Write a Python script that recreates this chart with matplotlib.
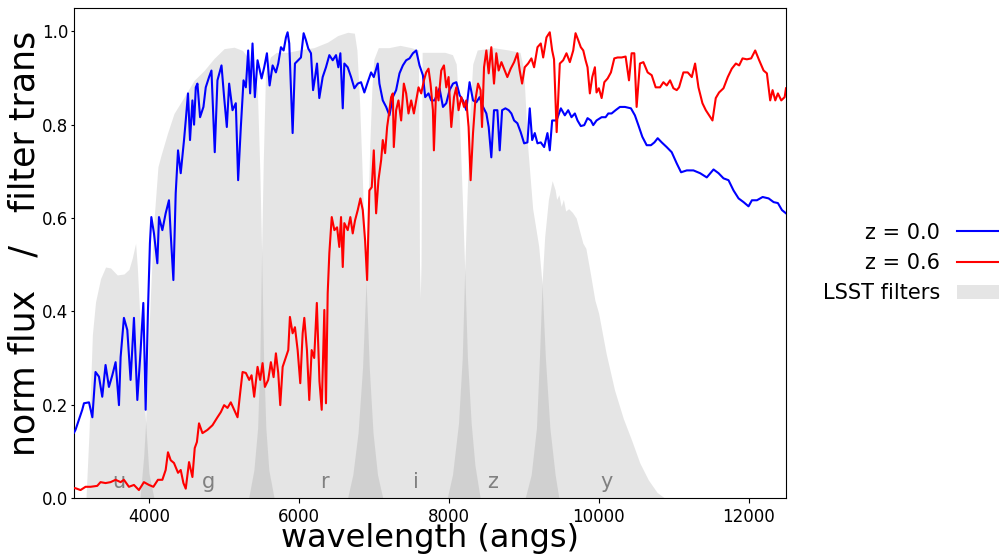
import matplotlib
matplotlib.use("Agg")
import matplotlib.pyplot as plt
import numpy as np

# ---------------- data ----------------
blue_wave = [3000, 3020, 3110, 3133, 3200, 3245, 3287, 3333, 3377, 3421, 3466, 3511, 3555, 3600, 3622,
             3666, 3711, 3755, 3800, 3845, 3889, 3925, 3956, 3987, 4013, 4032, 4067, 4112, 4134, 4179,
             4223, 4267, 4290, 4326, 4357, 4388, 4424, 4468, 4491, 4521, 4548, 4580, 4602, 4625, 4647,
             4682, 4727, 4758, 4802, 4834, 4878, 4914, 4968, 5003, 5039, 5070, 5115, 5159, 5190, 5226,
             5262, 5293, 5324, 5350, 5382, 5413, 5449, 5503, 5538, 5574, 5610, 5650, 5694, 5725, 5761,
             5797, 5828, 5850, 5872, 5917, 5948, 5992, 6028, 6064, 6095, 6126, 6162, 6190, 6215, 6242,
             6273, 6318, 6362, 6407, 6452, 6496, 6527, 6554, 6586, 6607, 6652, 6697, 6741, 6786, 6830,
             6874, 6919, 6964, 7000, 7053, 7075, 7120, 7165, 7209, 7254, 7298, 7343, 7388, 7432, 7477,
             7522, 7566, 7610, 7655, 7686, 7730, 7766, 7811, 7877, 7923, 7967, 8011, 8057, 8101, 8146,
             8190, 8234, 8278, 8324, 8368, 8412, 8458, 8502, 8533, 8568, 8604, 8649, 8680, 8712, 8756,
             8800, 8836, 8872, 8916, 8960, 9006, 9050, 9081, 9113, 9148, 9184, 9228, 9273, 9317, 9348,
             9380, 9438, 9496, 9549, 9594, 9638, 9683, 9718, 9762, 9808, 9852, 9896, 9928, 9972, 10040,
             10093, 10129, 10173, 10226, 10284, 10351, 10431, 10484, 10530, 10583, 10641, 10698, 10744, 10788, 10842,
             10908, 10975, 11042, 11100, 11176, 11265, 11354, 11443, 11533, 11600, 11666, 11733, 11800, 11867, 11934,
             12000, 12045, 12112, 12188, 12268, 12335, 12392, 12446, 12500]
blue_flux = [0.140, 0.146, 0.189, 0.203, 0.205, 0.173, 0.270, 0.260, 0.217, 0.285, 0.238, 0.263, 0.291, 0.199, 0.302,
             0.386, 0.360, 0.253, 0.386, 0.210, 0.317, 0.418, 0.189, 0.403, 0.546, 0.602, 0.567, 0.503, 0.602, 0.574,
             0.610, 0.638, 0.567, 0.467, 0.653, 0.745, 0.696, 0.767, 0.809, 0.867, 0.767, 0.852, 0.800, 0.880, 0.888,
             0.816, 0.838, 0.880, 0.902, 0.916, 0.741, 0.895, 0.927, 0.859, 0.795, 0.888, 0.831, 0.846, 0.681, 0.795,
             0.895, 0.880, 0.959, 0.867, 0.974, 0.859, 0.938, 0.899, 0.923, 0.953, 0.884, 0.927, 0.912, 0.931, 0.966,
             0.959, 0.987, 0.998, 0.974, 0.782, 0.931, 0.938, 0.944, 0.996, 0.981, 0.963, 0.953, 0.874, 0.900, 0.931,
             0.857, 0.902, 0.923, 0.949, 0.938, 0.949, 0.923, 0.953, 0.835, 0.931, 0.923, 0.902, 0.878, 0.888, 0.891,
             0.869, 0.891, 0.912, 0.902, 0.931, 0.888, 0.852, 0.838, 0.820, 0.859, 0.874, 0.910, 0.927, 0.938, 0.942,
             0.953, 0.959, 0.927, 0.906, 0.859, 0.867, 0.852, 0.852, 0.878, 0.838, 0.846, 0.874, 0.888, 0.891, 0.863,
             0.852, 0.831, 0.891, 0.852, 0.848, 0.859, 0.838, 0.824, 0.795, 0.730, 0.831, 0.831, 0.745, 0.831, 0.835,
             0.831, 0.824, 0.809, 0.803, 0.784, 0.760, 0.762, 0.835, 0.767, 0.782, 0.760, 0.762, 0.752, 0.782, 0.745,
             0.809, 0.809, 0.835, 0.820, 0.831, 0.816, 0.824, 0.809, 0.797, 0.799, 0.814, 0.809, 0.799, 0.809, 0.816,
             0.816, 0.824, 0.824, 0.831, 0.838, 0.838, 0.835, 0.820, 0.799, 0.774, 0.756, 0.756, 0.762, 0.771, 0.762,
             0.752, 0.741, 0.717, 0.698, 0.702, 0.702, 0.696, 0.687, 0.704, 0.696, 0.685, 0.681, 0.659, 0.642, 0.634,
             0.625, 0.638, 0.638, 0.645, 0.642, 0.634, 0.632, 0.617, 0.610]

red_wave = [3000, 3020, 3087, 3154, 3221, 3310, 3354, 3421, 3488, 3555, 3622, 3666, 3733, 3800, 3866,
            3933, 4000, 4059, 4120, 4179, 4223, 4254, 4290, 4334, 4388, 4424, 4460, 4491, 4535, 4580,
            4611, 4640, 4668, 4714, 4781, 4848, 4914, 4959, 5003, 5048, 5092, 5137, 5182, 5217, 5249,
            5293, 5338, 5369, 5404, 5449, 5484, 5516, 5547, 5591, 5627, 5663, 5694, 5725, 5752, 5784,
            5828, 5859, 5881, 5917, 5948, 5984, 6019, 6051, 6073, 6108, 6139, 6171, 6205, 6240, 6275,
            6305, 6340, 6362, 6385, 6407, 6439, 6474, 6510, 6540, 6563, 6586, 6607, 6652, 6687, 6719,
            6750, 6786, 6821, 6853, 6884, 6911, 6941, 6973, 7000, 7031, 7062, 7098, 7120, 7151, 7178,
            7209, 7231, 7254, 7267, 7298, 7329, 7365, 7401, 7432, 7463, 7499, 7535, 7566, 7597, 7633,
            7669, 7699, 7730, 7757, 7789, 7802, 7833, 7864, 7900, 7936, 7967, 7998, 8034, 8070, 8101,
            8131, 8168, 8204, 8234, 8265, 8292, 8324, 8355, 8391, 8425, 8444, 8471, 8502, 8533, 8568,
            8604, 8635, 8666, 8703, 8738, 8782, 8827, 8872, 8916, 8947, 8979, 9014, 9059, 9103, 9139,
            9184, 9228, 9260, 9304, 9348, 9380, 9405, 9440, 9482, 9527, 9571, 9616, 9661, 9692, 9728,
            9762, 9795, 9826, 9852, 9883, 9915, 9950, 9972, 10003, 10040, 10076, 10120, 10164, 10209, 10253,
            10307, 10360, 10405, 10440, 10476, 10507, 10551, 10597, 10654, 10708, 10761, 10819, 10864, 10909, 10953,
            10998, 11042, 11073, 11131, 11189, 11243, 11287, 11332, 11385, 11430, 11474, 11519, 11563, 11607, 11666,
            11723, 11777, 11831, 11875, 11920, 11978, 12035, 12089, 12142, 12201, 12245, 12289, 12321, 12357, 12392,
            12437, 12482, 12500]
red_flux = [0.021, 0.021, 0.017, 0.024, 0.024, 0.026, 0.034, 0.032, 0.034, 0.039, 0.034, 0.039, 0.024, 0.028, 0.017,
            0.034, 0.028, 0.024, 0.039, 0.039, 0.060, 0.098, 0.081, 0.075, 0.054, 0.060, 0.032, 0.020, 0.077, 0.045,
            0.107, 0.120, 0.160, 0.139, 0.146, 0.156, 0.173, 0.184, 0.199, 0.193, 0.205, 0.189, 0.173, 0.225, 0.270,
            0.268, 0.253, 0.263, 0.217, 0.281, 0.253, 0.289, 0.238, 0.253, 0.291, 0.259, 0.310, 0.268, 0.199, 0.281,
            0.302, 0.317, 0.388, 0.353, 0.366, 0.317, 0.246, 0.353, 0.386, 0.317, 0.210, 0.317, 0.300, 0.418, 0.250,
            0.189, 0.403, 0.203, 0.439, 0.525, 0.602, 0.574, 0.580, 0.538, 0.602, 0.495, 0.589, 0.574, 0.602, 0.567,
            0.595, 0.617, 0.642, 0.617, 0.552, 0.467, 0.659, 0.666, 0.745, 0.610, 0.681, 0.724, 0.767, 0.739, 0.795,
            0.831, 0.859, 0.867, 0.752, 0.831, 0.852, 0.809, 0.888, 0.867, 0.824, 0.852, 0.824, 0.852, 0.880, 0.867,
            0.895, 0.912, 0.920, 0.888, 0.831, 0.745, 0.880, 0.852, 0.916, 0.927, 0.880, 0.902, 0.795, 0.859, 0.880,
            0.831, 0.859, 0.838, 0.852, 0.795, 0.681, 0.782, 0.852, 0.888, 0.874, 0.795, 0.923, 0.959, 0.910, 0.966,
            0.888, 0.953, 0.916, 0.934, 0.920, 0.902, 0.920, 0.934, 0.953, 0.916, 0.888, 0.923, 0.931, 0.942, 0.923,
            0.966, 0.974, 0.944, 0.987, 0.998, 0.959, 0.940, 0.784, 0.931, 0.938, 0.953, 0.934, 0.959, 0.996, 0.981,
            0.966, 0.959, 0.938, 0.923, 0.867, 0.902, 0.923, 0.869, 0.878, 0.857, 0.891, 0.899, 0.912, 0.942, 0.944,
            0.944, 0.946, 0.895, 0.953, 0.953, 0.838, 0.931, 0.934, 0.912, 0.906, 0.880, 0.880, 0.891, 0.884, 0.895,
            0.878, 0.874, 0.880, 0.912, 0.912, 0.902, 0.931, 0.880, 0.846, 0.831, 0.820, 0.809, 0.857, 0.869, 0.878,
            0.902, 0.920, 0.931, 0.927, 0.942, 0.940, 0.942, 0.959, 0.938, 0.916, 0.910, 0.852, 0.874, 0.852, 0.867,
            0.852, 0.859, 0.878]

# LSST filter throughputs
u_wave = [3160, 3200, 3245, 3287, 3354, 3421, 3488, 3577, 3666, 3733, 3777, 3822, 3845, 3889, 3933, 3956, 4000, 4067]
u_trans = [0.0, 0.14, 0.35, 0.42, 0.47, 0.495, 0.493, 0.478, 0.48, 0.49, 0.514, 0.546, 0.495, 0.353, 0.21, 0.163, 0.053, 0.0]
g_wave = [3880, 3930, 3956, 4000, 4060, 4120, 4160, 4246, 4334, 4468, 4602, 4735, 4869, 5003, 5137, 5249, 5360,
          5445, 5480, 5503, 5530, 5560, 5600, 5670]
g_trans = [0.0, 0.09, 0.163, 0.36, 0.58, 0.71, 0.734, 0.781, 0.824, 0.859, 0.895, 0.916, 0.942, 0.963, 0.966, 0.959,
           0.935, 0.88, 0.70, 0.53, 0.30, 0.15, 0.06, 0.0]
r_wave = [5330, 5400, 5450, 5480, 5503, 5525, 5555, 5620, 5700, 5850, 6000, 6200, 6385, 6519, 6652, 6741,
          6775, 6810, 6840, 6870, 6897, 6940, 6990, 7050, 7120]
r_trans = [0.0, 0.06, 0.15, 0.30, 0.53, 0.72, 0.91, 0.945, 0.955, 0.955, 0.96, 0.965, 0.977, 0.991, 0.998, 0.996,
           0.96, 0.85, 0.72, 0.58, 0.467, 0.28, 0.14, 0.05, 0.0]
i_wave = [6650, 6720, 6790, 6850, 6897, 6920, 6945, 6975, 7000, 7060, 7200, 7350, 7500, 7595, 7610, 7620, 7630,
          7645, 7800, 7950, 8050, 8100, 8140, 8180, 8213, 8250, 8300, 8350, 8420]
i_trans = [0.0, 0.05, 0.14, 0.28, 0.467, 0.60, 0.75, 0.88, 0.94, 0.965, 0.965, 0.97, 0.965, 0.96, 0.50, 0.43, 0.50,
           0.955, 0.955, 0.955, 0.95, 0.93, 0.82, 0.65, 0.49, 0.30, 0.16, 0.07, 0.0]
z_wave = [7980, 8050, 8130, 8180, 8213, 8245, 8280, 8320, 8380, 8600, 8800, 8950, 9000, 9050, 9120, 9200, 9245,
          9290, 9350, 9420, 9470]
z_trans = [0.0, 0.05, 0.16, 0.30, 0.49, 0.65, 0.82, 0.93, 0.96, 0.965, 0.96, 0.955, 0.92, 0.76, 0.62, 0.54, 0.46,
           0.30, 0.15, 0.05, 0.0]
y_wave = [9020, 9100, 9170, 9210, 9245, 9280, 9330, 9380, 9420, 9440, 9470, 9500, 9530, 9560, 9600, 9650, 9700,
          9750, 9790, 9830, 9890, 9950, 10000, 10100, 10213, 10330, 10440, 10550, 10663, 10780, 10880]
y_trans = [0.0, 0.05, 0.15, 0.30, 0.46, 0.56, 0.64, 0.68, 0.66, 0.64, 0.65, 0.625, 0.64, 0.615, 0.62, 0.612, 0.60,
           0.57, 0.546, 0.535, 0.481, 0.424, 0.396, 0.31, 0.231, 0.17, 0.124, 0.075, 0.039, 0.012, 0.0]

filter_names = ["u", "g", "r", "i", "z", "y"]
filter_label_x = [3600, 4800, 6340, 7560, 8580, 10100]

# ---------------- plot ----------------
fig = plt.figure(figsize=(9.99, 5.56), dpi=100)
ax = fig.add_axes([74 / 999, 1 - 498 / 556, (786 - 74) / 999, (498 - 8) / 556])

filters = [(u_wave, u_trans), (g_wave, g_trans), (r_wave, r_trans),
           (i_wave, i_trans), (z_wave, z_trans), (y_wave, y_trans)]
for k, (w, t) in enumerate(filters):
    ax.fill_between(w, 0, t, color="grey", alpha=0.2, linewidth=0,
                    label="LSST filters" if k == 0 else None, zorder=1)

for name, xl in zip(filter_names, filter_label_x):
    ax.text(xl, 0.022, name, color="grey", fontsize=15, ha="center", va="baseline", zorder=2)

l1, = ax.plot(blue_wave, blue_flux, color="blue", lw=1.5, label="z = 0.0", zorder=3)
l2, = ax.plot(red_wave, red_flux, color="red", lw=1.5, label="z = 0.6", zorder=3)

ax.set_xlim(3000, 12500)
ax.set_ylim(0, 1.05)
ax.set_xticks([4000, 6000, 8000, 10000, 12000])
ax.set_yticks([0.0, 0.2, 0.4, 0.6, 0.8, 1.0])
ax.tick_params(labelsize=12)
ax.tick_params(axis="y", length=2.5, pad=1.5)
ax.set_xlabel("wavelength (angs)", fontsize=23, labelpad=-2.2)
ax.set_ylabel("norm flux   /   filter trans", fontsize=25)
ax.yaxis.set_label_coords(-0.045, 0.52)

handles, labels = ax.get_legend_handles_labels()
order = [labels.index("z = 0.0"), labels.index("z = 0.6"), labels.index("LSST filters")]
ax.legend([handles[i] for i in order], [labels[i] for i in order],
          loc="center right", bbox_to_anchor=(1.008, 0.527), bbox_transform=fig.transFigure,
          frameon=False, markerfirst=False, fontsize=15, borderaxespad=0)

fig.savefig("out.png", dpi=100)
